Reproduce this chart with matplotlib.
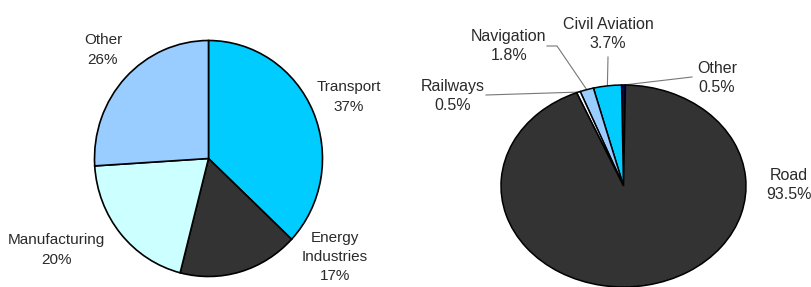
import numpy as np
import matplotlib.pyplot as plt

W, H = 812, 287

# left pie: CO2 emissions by sector
sectors = ["Transport", "Energy\nIndustries", "Manufacturing", "Other"]
sector_share = [37, 17, 20, 26]
sector_colors = ["#00CCFF", "#333333", "#CCFFFF", "#99CCFF"]

# right pie: transport emissions by mode
modes = ["Other", "Civil Aviation", "Navigation", "Railways", "Road"]
mode_share = [0.5, 3.7, 1.8, 0.5, 93.5]
mode_colors = ["#000099", "#00CCFF", "#99CCFF", "#F4FAFF", "#333333"]

fig = plt.figure(figsize=(W / 100, H / 100), dpi=100)


def pie_axes(cx, cy, rx, ry, lim=1.5):
    # axes where data unit 1 = rx px horizontally and ry px vertically
    ax = fig.add_axes([(cx - rx * lim) / W, (H - cy - ry * lim) / H,
                       2 * rx * lim / W, 2 * ry * lim / H])
    return ax


def px(ax, cx, cy, rx, ry, x, y):
    return (x - cx) / rx, (cy - y) / ry


text_kw = dict(ha="center", va="center", color="#2a2a2a",
               family=["Liberation Sans", "DejaVu Sans"])

# ---- left pie
L = (208.5, 158.5, 114, 118)
ax1 = pie_axes(*L)
ax1.pie(sector_share, colors=sector_colors, startangle=90, counterclock=False,
        wedgeprops=dict(edgecolor="black", linewidth=1.2))
ax1.set_aspect("auto")
ax1.set_xlim(-1.5, 1.5)
ax1.set_ylim(-1.5, 1.5)
ax1.axis("off")

left_pos = [(349, 97), (335, 257), (56, 250), (103, 50)]
for name, v, (x, y), ls in zip(sectors, sector_share, left_pos, [1.55, 1.45, 1.55, 1.55]):
    dx, dy = px(ax1, *L, x, y)
    ax1.text(dx, dy, f"{name}\n{v}%", fontsize=11, linespacing=ls, **text_kw)

# ---- right pie (flattened)
R = (623.5, 186, 122.5, 101)
ax2 = pie_axes(*R)
start = 90 - 360 * mode_share[0] / 100 / 2
wedges, _ = ax2.pie(mode_share, colors=mode_colors, startangle=start,
                    wedgeprops=dict(edgecolor="black", linewidth=1.1))
ax2.set_aspect("auto")
ax2.set_xlim(-1.5, 1.5)
ax2.set_ylim(-1.5, 1.5)
ax2.axis("off")

right_pos = [(717, 78), (608, 34), (509, 46), (453, 96), (789, 185)]
# leader line end points (pixels), None = no line
line_ends = [[(692, 77)], [(608, 57)], [(557, 46), (547, 46)], [(486, 95)], None]
for w, name, v, (x, y), ends in zip(wedges, modes, mode_share, right_pos, line_ends):
    dx, dy = px(ax2, *R, x, y)
    ax2.text(dx, dy, f"{name}\n{v}%", fontsize=11.5, linespacing=1.3, **text_kw)
    if ends:
        a = np.deg2rad((w.theta1 + w.theta2) / 2)
        xs = [np.cos(a)] + [px(ax2, *R, ex, ey)[0] for ex, ey in ends]
        ys = [np.sin(a)] + [px(ax2, *R, ex, ey)[1] for ex, ey in ends]
        ax2.plot(xs, ys, color="#777777", lw=0.8, zorder=0)

fig.savefig("out.png", dpi=100)
